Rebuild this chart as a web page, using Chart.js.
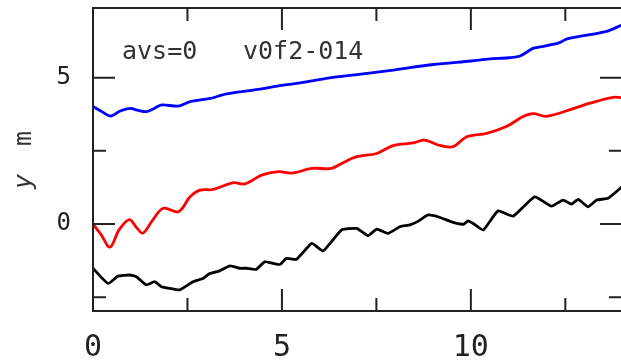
<!DOCTYPE html>
<html>
<head>
<meta charset="utf-8">
<script src="https://cdn.jsdelivr.net/npm/chart.js@4"></script>
<style>
  html, body { margin: 0; padding: 0; background: #fff; overflow: hidden; }
  canvas { display: block; }
</style>
</head>
<body>
<canvas id="canva" width="623" height="362"></canvas>
<script>
// time axis (x) and vertical position y [m] for the three runs
var blueT = [0, 0.22, 0.46, 0.72, 0.99, 1.2, 1.42, 1.62, 1.82, 2.26, 2.57, 3.1, 3.54, 4.37, 5.0, 5.43, 6.14, 7.15, 8.0, 9.0, 10.0, 10.5, 11.0, 11.3, 11.64, 11.83, 12.35, 12.53, 13.15, 13.59, 14.0];
var blueY = [4.02, 3.85, 3.69, 3.86, 3.95, 3.88, 3.84, 3.95, 4.07, 4.03, 4.18, 4.29, 4.45, 4.6, 4.74, 4.81, 4.97, 5.13, 5.27, 5.45, 5.57, 5.64, 5.68, 5.74, 6.0, 6.05, 6.2, 6.32, 6.47, 6.58, 6.8];

var redT = [0, 0.21, 0.45, 0.69, 0.96, 1.14, 1.32, 1.56, 1.86, 2.26, 2.57, 2.83, 3.17, 3.7, 4.02, 4.46, 4.9, 5.26, 5.79, 6.31, 6.58, 6.98, 7.51, 7.94, 8.47, 8.78, 9.13, 9.52, 9.89, 10.42, 10.94, 11.38, 11.65, 12.0, 12.75, 13.15, 13.76, 14.0];
var redY = [0, -0.35, -0.79, -0.2, 0.15, -0.1, -0.31, 0.1, 0.54, 0.42, 0.93, 1.16, 1.18, 1.41, 1.37, 1.67, 1.79, 1.74, 1.9, 1.9, 2.07, 2.3, 2.41, 2.68, 2.77, 2.87, 2.7, 2.64, 2.98, 3.1, 3.33, 3.67, 3.77, 3.68, 3.96, 4.13, 4.33, 4.32];

var blackT = [0, 0.4, 0.66, 0.97, 1.15, 1.41, 1.63, 1.81, 2.03, 2.29, 2.65, 2.91, 3.09, 3.35, 3.62, 3.88, 4.06, 4.32, 4.54, 4.76, 4.95, 5.12, 5.39, 5.79, 6.09, 6.58, 6.98, 7.28, 7.51, 7.81, 8.12, 8.39, 8.61, 8.87, 9.13, 9.44, 9.58, 9.8, 9.93, 10.06, 10.33, 10.72, 11.12, 11.69, 12.13, 12.44, 12.66, 12.84, 13.1, 13.33, 13.63, 14.0];
var blackY = [-1.51, -2.03, -1.78, -1.74, -1.8, -2.08, -1.97, -2.14, -2.2, -2.25, -1.97, -1.86, -1.69, -1.6, -1.43, -1.51, -1.51, -1.55, -1.29, -1.34, -1.38, -1.17, -1.2, -0.66, -0.92, -0.2, -0.15, -0.4, -0.17, -0.32, -0.09, -0.03, 0.1, 0.31, 0.25, 0.1, 0.04, -0.01, 0.11, 0.02, -0.2, 0.45, 0.27, 0.93, 0.61, 0.82, 0.68, 0.84, 0.59, 0.82, 0.88, 1.27];

var xLabels = [0, 5, 10];
var yLabels = [0, 5];
var xMarks = [0, 2.5, 5, 7.5, 10, 12.5];
var yMarks = [-2.5, 0, 2.5, 5];

var FONT = '"DejaVu Sans Mono"';

function pts(t, v) {
    var out = [];
    for (let i = 0; i < t.length; i++) out.push({x: t[i], y: v[i]});
    return out;
}

// box around the plot with inward ticks on all four sides, plus the text
const frame = {
    id: 'frame',
    afterDraw(chart) {
        const c = chart.ctx;
        const a = chart.chartArea;
        const sx = chart.scales.x, sy = chart.scales.y;
        c.save();
        c.strokeStyle = '#222';
        c.lineWidth = 2;
        c.strokeRect(a.left, a.top, a.right - a.left, a.bottom - a.top);
        c.beginPath();
        xMarks.forEach(v => {
            var px = sx.getPixelForValue(v);
            var len = v % 5 === 0 ? 22 : 13;
            c.moveTo(px, a.bottom); c.lineTo(px, a.bottom - len);
            c.moveTo(px, a.top); c.lineTo(px, a.top + len);
        });
        yMarks.forEach(v => {
            var py = sy.getPixelForValue(v);
            var len = v % 5 === 0 ? 22 : 13;
            c.moveTo(a.left, py); c.lineTo(a.left + len, py);
            c.moveTo(a.right, py); c.lineTo(a.right - len, py);
        });
        c.stroke();

        c.fillStyle = '#333';
        c.font = '25px ' + FONT;
        c.textBaseline = 'alphabetic';
        c.fillText('avs=0', 122, 59);
        c.fillText('v0f2-014', 243, 59);

        // y axis title: italic y, then the unit
        c.translate(31, 189);
        c.rotate(-Math.PI / 2);
        c.font = 'oblique 25px ' + FONT;
        c.fillText('y', 0, 0);
        c.font = '25px ' + FONT;
        c.fillText('m', 43, 0);
        c.restore();
    }
};

var canva = new Chart(document.getElementById('canva'), {
    type: 'line',
    data: {
        datasets: [
            {data: pts(blueT, blueY), borderColor: '#0000ff', borderWidth: 2.8, pointRadius: 0, tension: 0.3, fill: false},
            {data: pts(redT, redY), borderColor: '#ff0000', borderWidth: 2.8, pointRadius: 0, tension: 0.35, fill: false},
            {data: pts(blackT, blackY), borderColor: '#000000', borderWidth: 2.8, pointRadius: 0, tension: 0.15, fill: false}
        ]
    },
    options: {
        responsive: false,
        animation: false,
        devicePixelRatio: 1,
        layout: {padding: {top: 8, right: 1, left: 0, bottom: 0}},
        plugins: {legend: {display: false}, tooltip: {enabled: false}},
        scales: {
            x: {
                type: 'linear',
                min: 0,
                max: 14,
                afterBuildTicks: s => { s.ticks = xLabels.map(v => ({value: v})); },
                afterFit: s => { s.height = 51; s.paddingLeft = 0; s.paddingRight = 0; },
                grid: {display: false, drawTicks: false},
                border: {display: false},
                ticks: {
                    color: '#222',
                    padding: 19,
                    maxRotation: 0,
                    font: {family: FONT, size: 30}
                }
            },
            y: {
                type: 'linear',
                min: -2.97,
                max: 7.38,
                afterBuildTicks: s => { s.ticks = yLabels.map(v => ({value: v})); },
                afterFit: s => { s.width = 93; s.paddingTop = 0; s.paddingBottom = 0; },
                grid: {display: false, drawTicks: false},
                border: {display: false},
                ticks: {
                    color: '#222',
                    padding: 22,
                    font: {family: FONT, size: 24}
                }
            }
        }
    },
    plugins: [frame]
});
</script>
</body>
</html>
